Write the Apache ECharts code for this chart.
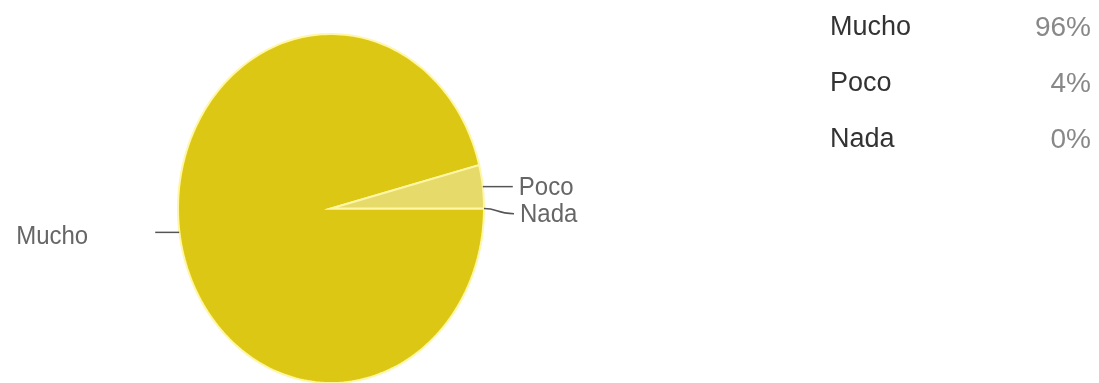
<!DOCTYPE html>
<html>
<head>
<meta charset="utf-8">
<script src="https://cdn.jsdelivr.net/npm/echarts@6/dist/echarts.min.js"></script>
<style>
  html, body { margin: 0; padding: 0; background: #ffffff; }
  #chart { width: 1099px; height: 383px; }
</style>
</head>
<body>
<div id="chart"></div>
<script>
// Survey answers and their share (%)
const categories = ['Mucho', 'Poco', 'Nada'];
const values = [96, 4, 0];
const sliceColors = ['#dcc814', '#e6da6a', '#c9b20e'];

const total = values.reduce((a, b) => a + b, 0);
const before = values.map((v, i) => values.slice(0, i).reduce((a, b) => a + b, 0));

const FONT = '"Liberation Sans", Arial, sans-serif';
const rightLabelYs = [];

// One wedge of the (elliptical) pie, drawn clockwise from 3 o'clock
function renderSlice(params, api) {
  const value = api.value(0);
  const start = api.value(1);
  const a0 = -start / total * Math.PI * 2;
  const a1 = -(start + value) / total * Math.PI * 2;
  const steps = Math.max(2, Math.ceil(Math.abs(a1 - a0) / (Math.PI * 2) * 240));
  const pts = [api.coord([0, 0])];
  for (let k = 0; k <= steps; k++) {
    const a = a0 + (a1 - a0) * k / steps;
    pts.push(api.coord([Math.cos(a), Math.sin(a)]));
  }
  const children = [];
  if (value > 0) {
    children.push({
      type: 'polygon',
      shape: { points: pts },
      style: { fill: api.visual('color'), stroke: '#fff6a6', lineWidth: 2 }
    });
  }
  // leader line and label at the slice's middle angle
  const am = (a0 + a1) / 2;
  const edge = api.coord([Math.cos(am), Math.sin(am)]);
  const name = categories[params.seriesIndex];
  const textStyle = { text: name, fill: '#666666', fontSize: 24, fontFamily: FONT, verticalAlign: 'middle' };
  if (Math.cos(am) < 0) {
    const ly = edge[1] + 2;
    const x2 = edge[0] - 24;
    children.push({ type: 'line', shape: { x1: edge[0], y1: ly, x2: x2, y2: ly },
      style: { stroke: '#555555', lineWidth: 1.5 } });
    children.push({ type: 'text', x: x2 - 67, y: ly + 4, scaleY: 1.1,
      style: Object.assign({ align: 'right' }, textStyle) });
  } else {
    let ly = edge[1];
    const prev = rightLabelYs.length ? rightLabelYs[rightLabelYs.length - 1] : -Infinity;
    if (ly < prev + 27) ly = prev + 27;
    rightLabelYs.push(ly);
    const x2 = edge[0] + 30;
    if (Math.abs(ly - edge[1]) < 1) {
      children.push({ type: 'line', shape: { x1: edge[0], y1: edge[1], x2: x2, y2: ly },
        style: { stroke: '#555555', lineWidth: 1.5 } });
    } else {
      children.push({ type: 'bezierCurve',
        shape: { x1: edge[0], y1: edge[1], cpx1: edge[0] + 14, cpy1: edge[1],
                 cpx2: edge[0] + 12, cpy2: ly, x2: x2, y2: ly },
        style: { stroke: '#555555', lineWidth: 1.5, fill: null } });
    }
    children.push({ type: 'text', x: x2 + 6, y: ly + 1, scaleY: 1.1,
      style: Object.assign({ align: 'left' }, textStyle) });
  }
  return { type: 'group', children: children };
}

const chart = echarts.init(document.getElementById('chart'), null, { renderer: 'canvas' });

chart.setOption({
  animation: false,
  backgroundColor: '#ffffff',
  grid: { left: 178, top: 34, width: 306, height: 350 },
  xAxis: { type: 'value', min: -1, max: 1, show: false },
  yAxis: { type: 'value', min: -1, max: 1, show: false },
  legend: {
    orient: 'vertical',
    left: 820,
    top: 9,
    icon: 'none',
    itemWidth: 0,
    itemHeight: 10,
    itemGap: 28,
    selectedMode: false,
    data: categories,
    formatter: function (name) {
      const i = categories.indexOf(name);
      return '{n|' + name + '}{p|' + values[i] + '%}';
    },
    textStyle: {
      rich: {
        n: { width: 203, fontSize: 27, color: '#333333', fontFamily: FONT, lineHeight: 30 },
        p: { width: 58, align: 'right', fontSize: 28, color: '#888888', fontFamily: FONT, lineHeight: 30 }
      }
    }
  },
  series: categories.map((name, i) => ({
    type: 'custom',
    name: name,
    coordinateSystem: 'cartesian2d',
    clip: false,
    silent: true,
    itemStyle: { color: sliceColors[i] },
    renderItem: renderSlice,
    data: [[values[i], before[i]]]
  }))
});
</script>
</body>
</html>
